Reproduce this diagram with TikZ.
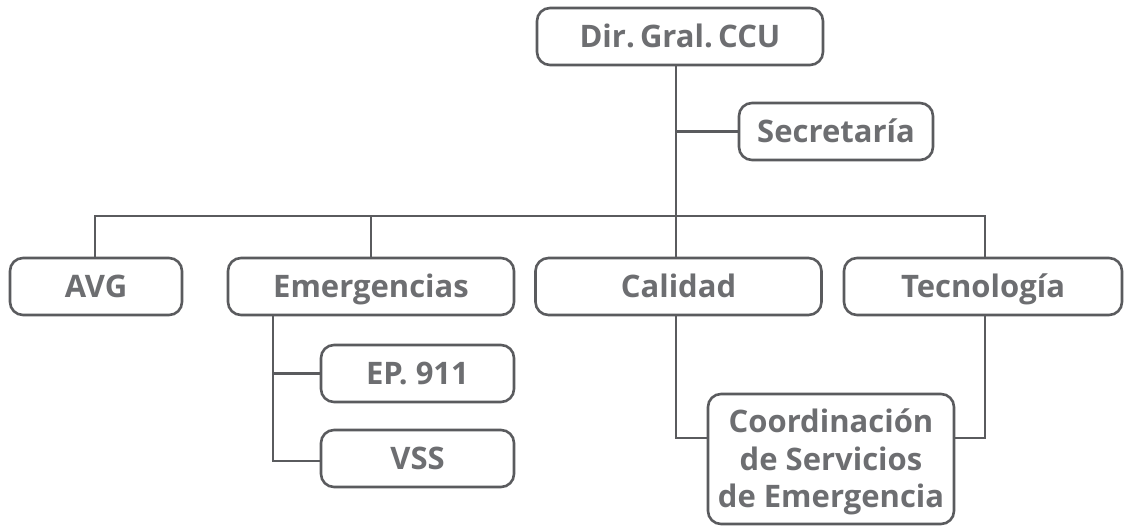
\documentclass[tikz,border=0pt]{standalone}
\usepackage{fontspec}
\setmainfont{Open Sans}[UprightFont=* Bold]
\definecolor{linegray}{HTML}{5A5B5E}
\definecolor{textgray}{HTML}{6D6E71}
\begin{document}
\begin{tikzpicture}[x=1pt,y=-1pt,
  orgbox/.style={draw=linegray, line width=2.6pt, rounded corners=13pt, fill=white,
    text=textgray, font=\fontsize{31}{37.5}\selectfont, inner sep=0pt,
    minimum height=57pt, align=center, text height=22pt, text depth=0pt},
  link/.style={draw=linegray, line width=2.6pt}]
\useasboundingbox (0,0) rectangle (1124,526);
\node[orgbox, minimum width=286pt] (dir) at (680,36.5) {Dir.\,Gral.\,CCU};
\node[orgbox, minimum width=194pt] (sec) at (836,131.5) {Secretaría};
\node[orgbox, minimum width=172pt] (avg) at (96,286.5) {AVG};
\node[orgbox, minimum width=286pt] (eme) at (371,286.5) {Emergencias};
\node[orgbox, minimum width=286pt] (cal) at (678.5,286.5) {Calidad};
\node[orgbox, minimum width=278pt] (tec) at (983,286.5) {Tecnología};
\node[orgbox, minimum width=193pt] (ep) at (417.5,373.5) {EP. 911};
\node[orgbox, minimum width=193pt] (vss) at (417.5,458.5) {VSS};
\node[orgbox, minimum width=246pt, minimum height=130pt, text height=97pt] (coord) at (831,459)
  {Coordinación\\de Servicios\\de Emergencia};
\coordinate (j) at (676,216);
\coordinate (bl) at (95,216);
\coordinate (br) at (985,216);
\coordinate (es) at (273,461);
\coordinate (cl) at (676,438);
\coordinate (cr) at (985,438);
% trunk
\draw[link] (dir.south -| j) -- (cal.north -| j);
\draw[link] (sec.west) -- (sec.west -| j);
% bar
\draw[link] (avg.north -| bl) -- (bl) -- (br) -- (tec.north -| br);
\draw[link] (eme.north) -- (eme.north |- bl);
% Emergencias children
\draw[link] (es |- eme.south) -- (es) -- (es -| vss.west);
\draw[link] (es |- ep.west) -- (ep.west);
% Coordinacion
\draw[link] (cal.south -| cl) -- (cl) -- (cl -| coord.west);
\draw[link] (tec.south -| cr) -- (cr) -- (cr -| coord.east);
\end{tikzpicture}
\end{document}
